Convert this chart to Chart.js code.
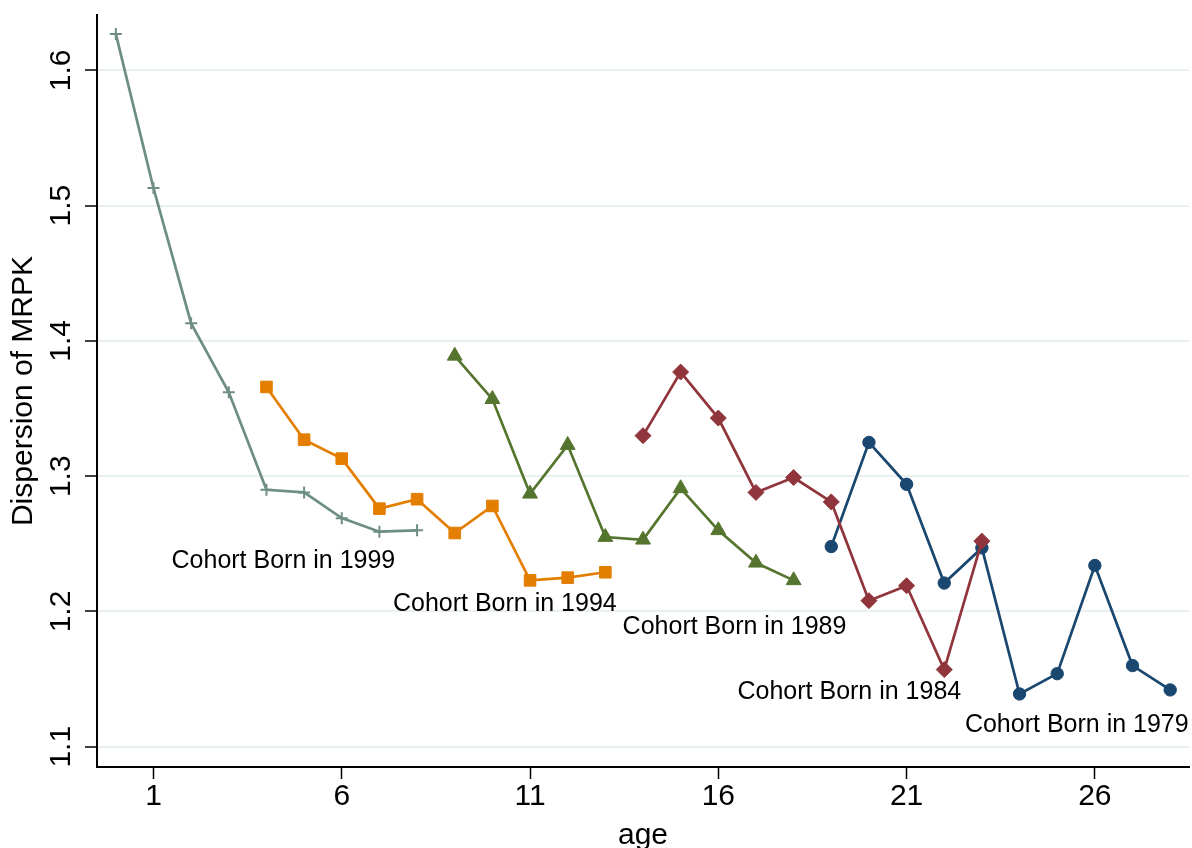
<!DOCTYPE html>
<html lang="en">
<head>
<meta charset="UTF-8">
<title>Dispersion of MRPK by cohort</title>
<script src="https://cdn.jsdelivr.net/npm/chart.js"></script>
<style>
  body { margin: 0; background: #ffffff; }
  #wrap { width: 1192px; height: 848px; }
</style>
</head>
<body>
<div id="wrap"><canvas id="mrpkChart" width="1192" height="848"></canvas></div>
<script>
// axis ticks
const xTicks = [1, 6, 11, 16, 21, 26];
const yTicks = [1.1, 1.2, 1.3, 1.4, 1.5, 1.6];

// dispersion of MRPK by age, one series per birth cohort
const ages1999 = [0, 1, 2, 3, 4, 5, 6, 7, 8];
const mrpk1999 = [1.627, 1.513, 1.413, 1.362, 1.290, 1.288, 1.269, 1.259, 1.260];

const ages1994 = [4, 5, 6, 7, 8, 9, 10, 11, 12, 13];
const mrpk1994 = [1.366, 1.327, 1.313, 1.276, 1.283, 1.258, 1.278, 1.223, 1.225, 1.229];

const ages1989 = [9, 10, 11, 12, 13, 14, 15, 16, 17, 18];
const mrpk1989 = [1.389, 1.357, 1.287, 1.323, 1.255, 1.253, 1.291, 1.260, 1.236, 1.223];

const ages1984 = [14, 15, 16, 17, 18, 19, 20, 21, 22, 23];
const mrpk1984 = [1.330, 1.377, 1.343, 1.288, 1.299, 1.281, 1.208, 1.219, 1.157, 1.252];

const ages1979 = [19, 20, 21, 22, 23, 24, 25, 26, 27, 28];
const mrpk1979 = [1.248, 1.325, 1.294, 1.221, 1.247, 1.139, 1.154, 1.234, 1.160, 1.142];

// text labels: centre age and baseline value
const cohortLabels = ['Cohort Born in 1999', 'Cohort Born in 1994', 'Cohort Born in 1989',
                      'Cohort Born in 1984', 'Cohort Born in 1979'];
const labelAge = [4.45, 10.33, 16.43, 19.48, 25.52];
const labelMrpk = [1.232, 1.200, 1.183, 1.135, 1.111];

const FONT = '"Liberation Sans", Arial, Helvetica, sans-serif';

function series(ages, vals) {
    return ages.map((a, i) => ({ x: a, y: vals[i] }));
}

function lineSet(label, ages, vals, color, style, radius) {
    return {
        label: label,
        data: series(ages, vals),
        borderColor: color,
        backgroundColor: color,
        borderWidth: 2.7,
        tension: 0,
        pointStyle: style,
        pointRadius: radius,
        pointBorderWidth: style === 'cross' ? 2 : 1,
        pointBorderColor: color,
        pointBackgroundColor: color
    };
}

// rotated y tick labels and cohort captions
const extras = {
    id: 'extras',
    afterDraw(chart) {
        const { ctx, scales: { x, y } } = chart;
        ctx.save();
        ctx.fillStyle = '#000';
        ctx.textAlign = 'center';
        ctx.textBaseline = 'alphabetic';
        ctx.font = '30px ' + FONT;
        yTicks.forEach(v => {
            ctx.save();
            ctx.translate(70, y.getPixelForValue(v));
            ctx.rotate(-Math.PI / 2);
            ctx.fillText(v.toFixed(1), 0, 0);
            ctx.restore();
        });
        ctx.font = '25px ' + FONT;
        cohortLabels.forEach((t, i) => {
            ctx.fillText(t, x.getPixelForValue(labelAge[i]), y.getPixelForValue(labelMrpk[i]));
        });
        ctx.restore();
    }
};

new Chart(document.getElementById('mrpkChart'), {
    type: 'line',
    data: {
        datasets: [
            lineSet('1999', ages1999, mrpk1999, '#6e8e84', 'cross', 6),
            lineSet('1994', ages1994, mrpk1994, '#e37e00', 'rect', 8.2),
            lineSet('1989', ages1989, mrpk1989, '#55752f', 'triangle', 8.6),
            lineSet('1984', ages1984, mrpk1984, '#90353b', 'rectRot', 8),
            lineSet('1979', ages1979, mrpk1979, '#1a476f', 'circle', 6.2)
        ]
    },
    options: {
        responsive: false,
        animation: false,
        devicePixelRatio: 1,
        layout: { autoPadding: false, padding: { top: 15, right: 3, left: 0, bottom: 0 } },
        plugins: {
            legend: { display: false },
            tooltip: { enabled: false }
        },
        scales: {
            x: {
                type: 'linear',
                min: -0.5,
                max: 28.5,
                afterBuildTicks: s => { s.ticks = xTicks.map(v => ({ value: v })); },
                afterFit: s => { s.height = 81; },
                ticks: {
                    color: '#000',
                    padding: 0,
                    font: { family: FONT, size: 30 },
                    maxRotation: 0,
                    autoSkip: false
                },
                grid: {
                    drawOnChartArea: false,
                    tickLength: 12,
                    tickColor: '#000',
                    tickWidth: 1.5
                },
                border: { display: true, color: '#000', width: 2 },
                title: {
                    display: true,
                    text: 'age',
                    color: '#000',
                    font: { family: FONT, size: 30, lineHeight: 1 },
                    padding: { top: 0, bottom: -3 }
                }
            },
            y: {
                type: 'linear',
                min: 1.085,
                max: 1.641,
                afterBuildTicks: s => { s.ticks = yTicks.map(v => ({ value: v })); },
                afterFit: s => { s.width = 97; },
                ticks: { display: false },
                grid: {
                    color: '#e8f0f2',
                    lineWidth: 2,
                    tickLength: 12,
                    tickColor: '#000',
                    tickWidth: 1.5
                },
                border: { display: true, color: '#000', width: 2 },
                title: {
                    display: true,
                    text: 'Dispersion of MRPK',
                    color: '#000',
                    font: { family: FONT, size: 30, lineHeight: 1 },
                    padding: { top: 9, bottom: 0 }
                }
            }
        }
    },
    plugins: [extras]
});
</script>
</body>
</html>
